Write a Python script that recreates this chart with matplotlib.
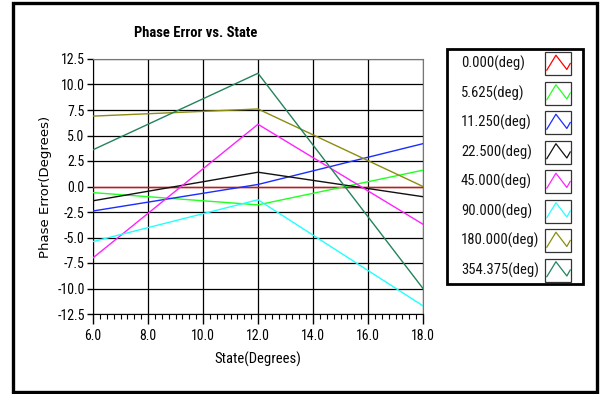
import matplotlib
matplotlib.use("Agg")
import matplotlib.pyplot as plt
from matplotlib.patches import Rectangle
from matplotlib.ticker import MultipleLocator, FormatStrFormatter

states = [6.0, 12.0, 18.0]
series_names = ["0.000(deg)", "5.625(deg)", "11.250(deg)", "22.500(deg)",
                "45.000(deg)", "90.000(deg)", "180.000(deg)", "354.375(deg)"]
err_0 = [0.0, 0.0, 0.0]
err_5625 = [-0.6, -1.8, 1.6]
err_1125 = [-2.4, 0.2, 4.2]
err_225 = [-1.4, 1.4, -1.0]
err_45 = [-7.0, 6.1, -3.7]
err_90 = [-5.4, -1.3, -11.7]
err_180 = [6.9, 7.6, 0.0]
err_354 = [3.6, 11.1, -10.0]
all_errors = [err_0, err_5625, err_1125, err_225, err_45, err_90, err_180, err_354]
colors = ["#ff0000", "#22ff22", "#1a2cff", "#111111", "#ff22ff", "#22ffff",
          "#8c8c10", "#23835a"]

NARROW = ["Roboto Condensed", "DejaVu Sans"]

fig = plt.figure(figsize=(6.0, 3.94), dpi=100)
fig.patch.set_facecolor("white")

ax = fig.add_axes([93/600, 1-314/394, 330/600, 255/394])
for vals, c in zip(all_errors, colors):
    ax.plot(states, vals, color=c, lw=1.0, zorder=3)

ax.set_xlim(6, 18)
ax.set_ylim(-12.5, 12.5)
ax.xaxis.set_major_locator(MultipleLocator(2))
ax.xaxis.set_minor_locator(MultipleLocator(0.25))
ax.yaxis.set_major_locator(MultipleLocator(2.5))
ax.xaxis.set_major_formatter(FormatStrFormatter("%.1f"))
ax.yaxis.set_major_formatter(FormatStrFormatter("%.1f"))
ax.grid(True, which="major", color="black", lw=0.9)
ax.set_axisbelow(True)
ax.tick_params(axis="x", which="major", direction="out", length=7, width=1, pad=4)
ax.tick_params(axis="x", which="minor", direction="out", length=3.5, width=0.8)
ax.tick_params(axis="y", which="major", direction="out", length=4, width=1, pad=2)
for lab in ax.get_xticklabels() + ax.get_yticklabels():
    lab.set_family(NARROW)
    lab.set_fontsize(10)
ax.spines["top"].set_color("#777777")
ax.spines["right"].set_color("#777777")
ax.spines["left"].set_color("black")
ax.spines["bottom"].set_color("black")

ax.set_title("Phase Error vs. State", family=NARROW, fontsize=10.5,
             fontweight="bold", pad=16, x=0.31)
ax.set_xlabel("State(Degrees)", family=NARROW, fontsize=10.5, labelpad=6)
ax.set_ylabel("Phase Error(Degrees)", family="DejaVu Sans", fontsize=9.5,
              labelpad=4)
ax.yaxis.label.set_fontstretch("expanded")

# overlay in pixel coordinates for legend and frame
ov = fig.add_axes([0, 0, 1, 1], facecolor="none")
ov.set_xlim(0, 600)
ov.set_ylim(394, 0)
ov.axis("off")
ov.add_patch(Rectangle((13, 3), 584, 389, fill=False, ec="black", lw=2.4))
ov.add_patch(Rectangle((447, 49), 136, 235, fill=False, ec="black", lw=2.0))

row0 = 63.5
step = 29.5
for i, (name, c) in enumerate(zip(series_names, colors)):
    yc = row0 + i * step
    ov.text(461, yc, name, family=NARROW, fontsize=10.5, va="center",
            ha="left", color="#111111")
    x0, y0, w, h = 545, yc - 11.5, 26, 23
    ov.add_patch(Rectangle((x0, y0), w, h, fill=False, ec="#333333", lw=0.9))
    zx = [x0 + 0.07*w, x0 + 0.42*w, x0 + 0.84*w, x0 + 0.97*w]
    zy = [y0 + 0.79*h, y0 + 0.14*h, y0 + 0.76*h, y0 + 0.5*h]
    ov.plot(zx, zy, color=c, lw=0.9)

fig.savefig("out.png", dpi=100, facecolor="white")
